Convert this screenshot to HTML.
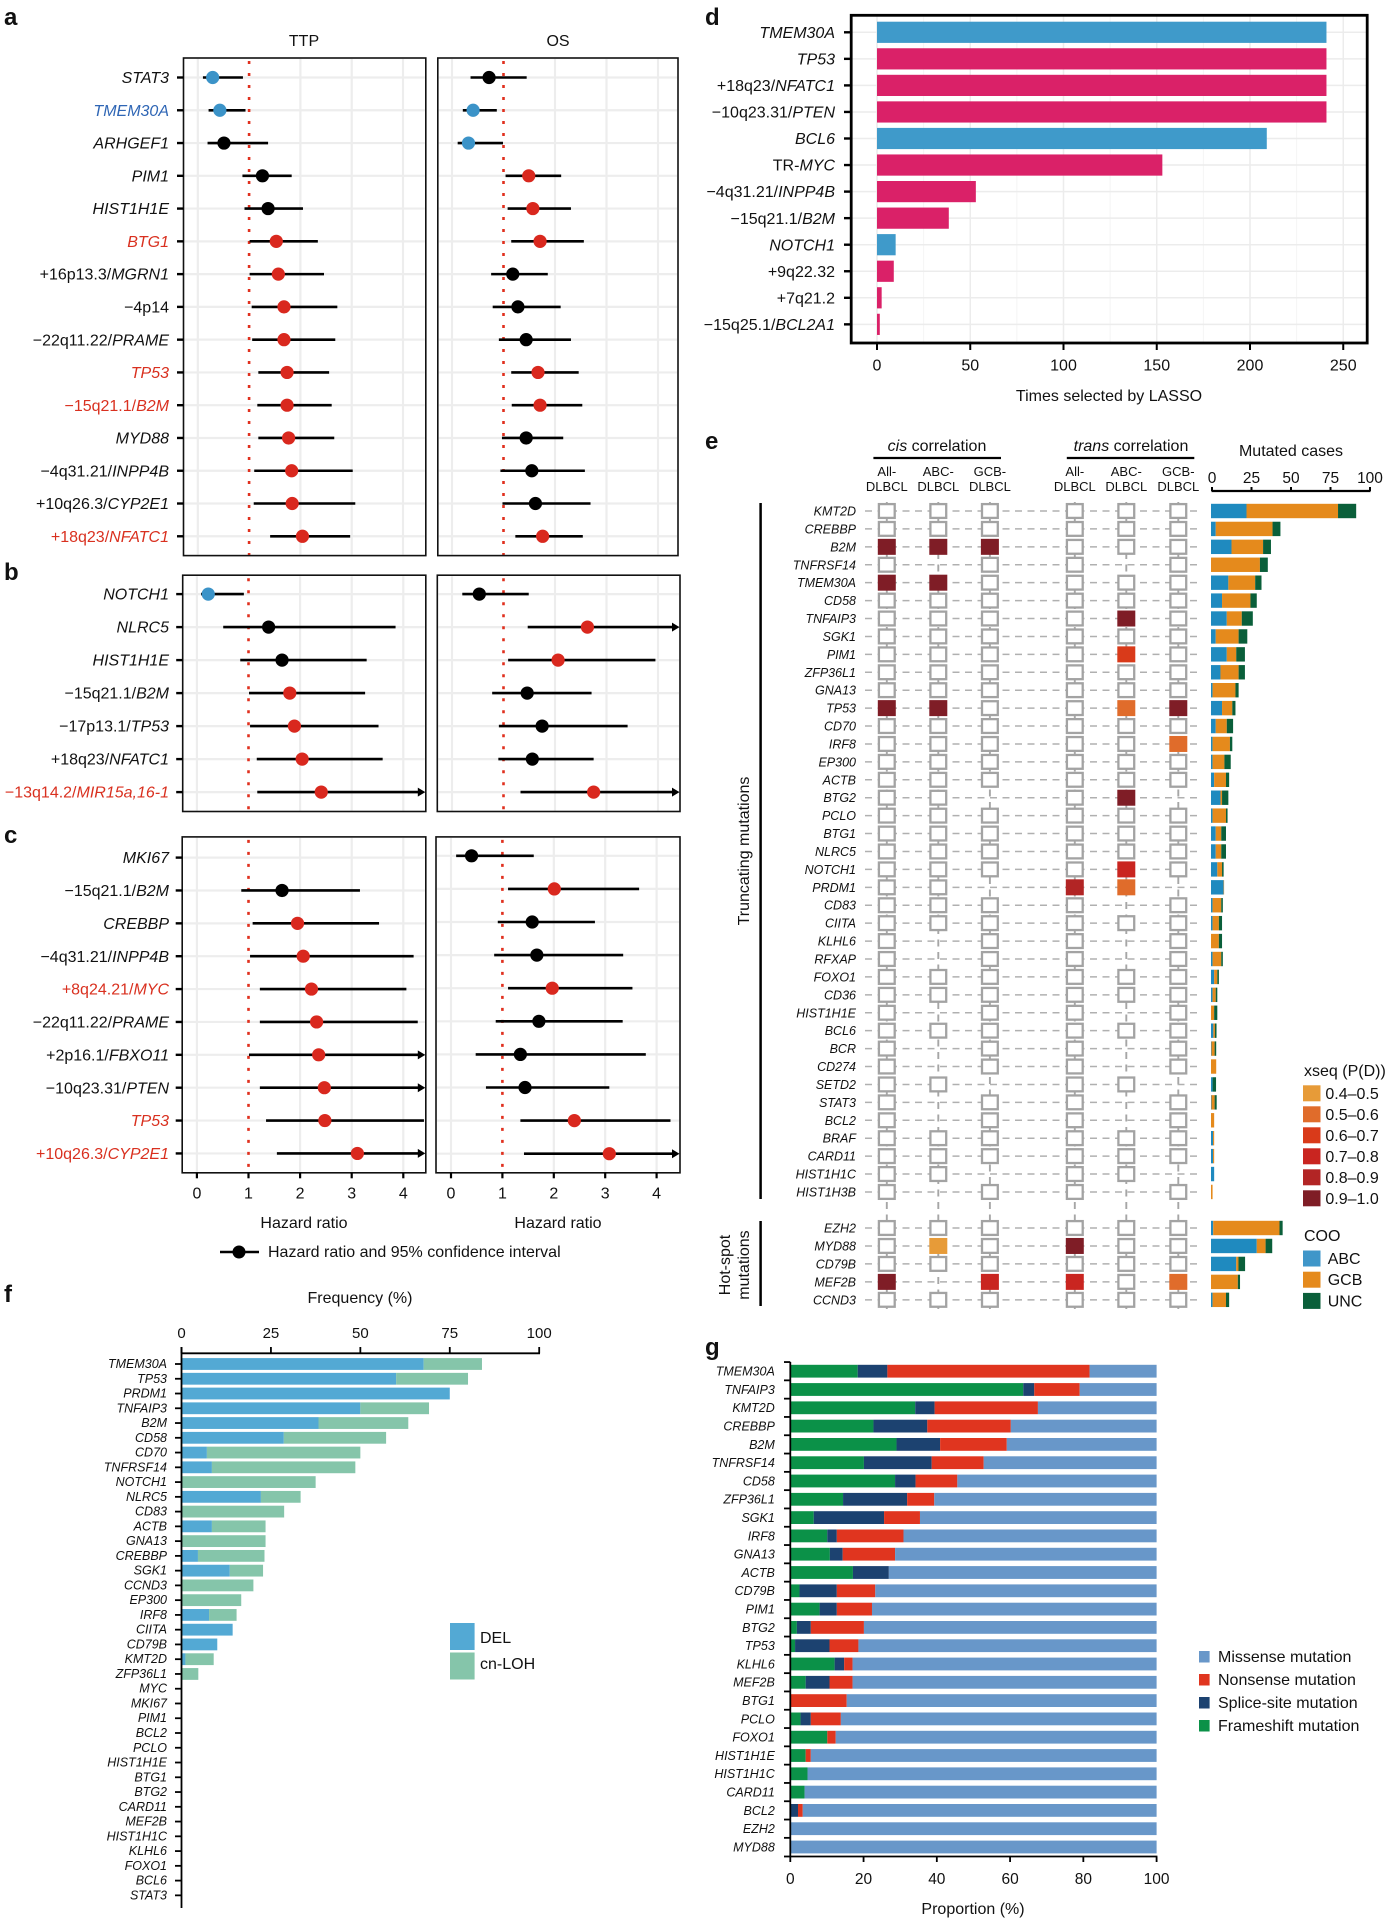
<!DOCTYPE html>
<html lang="en">
<head>
<meta charset="utf-8">
<title>Genomic predictors of outcome in DLBCL</title>
<style>
html,body{margin:0;padding:0;background:#fff;}
#figure{display:block;width:1386px;height:1920px;font-family:"Liberation Sans",sans-serif;}
text{font-family:"Liberation Sans",sans-serif;fill:#111;}
.pl{font-size:24px;font-weight:bold;}
.t16{font-size:16px;}
.t13{font-size:13px;}
</style>
</head>
<body>
<svg id="figure" xmlns="http://www.w3.org/2000/svg" width="1386" height="1920" viewBox="0 0 1386 1920">
  <rect x="0" y="0" width="1386" height="1920" fill="#fff"/>
  <g id="forest"></g>
  <g id="lasso"></g>
  <g id="corr"></g>
  <g id="freq"></g>
  <g id="prop"></g>

  <text class="pl" x="4" y="25">a</text>
  <text class="pl" x="4" y="580">b</text>
  <text class="pl" x="4" y="843">c</text>
  <text class="pl" x="705" y="25">d</text>
  <text class="pl" x="705" y="449">e</text>
  <text class="pl" x="4" y="1302">f</text>
  <text class="pl" x="705" y="1355">g</text>

  <text class="t16" x="304" y="46" text-anchor="middle">TTP</text>
  <text class="t16" x="558" y="46" text-anchor="middle">OS</text>
  <text class="t16" x="304" y="1228" text-anchor="middle">Hazard ratio</text>
  <text class="t16" x="558" y="1228" text-anchor="middle">Hazard ratio</text>
  <line x1="220" x2="259" y1="1252" y2="1252" stroke="#000" stroke-width="2.5"/>
  <circle cx="239" cy="1252" r="6.5" fill="#000"/>
  <text class="t16" x="268" y="1257">Hazard ratio and 95% confidence interval</text>

  <text class="t16" x="1109" y="401" text-anchor="middle">Times selected by LASSO</text>

  <text class="t16" x="937" y="451" text-anchor="middle"><tspan font-style="italic">cis</tspan> correlation</text>
  <line x1="873.4" x2="1001" y1="458" y2="458" stroke="#000" stroke-width="2.2"/>
  <text class="t16" x="1131" y="451" text-anchor="middle"><tspan font-style="italic">trans</tspan> correlation</text>
  <line x1="1066.8" x2="1194.3" y1="458" y2="458" stroke="#000" stroke-width="2.2"/>
  <text class="t16" x="1291" y="456" text-anchor="middle">Mutated cases</text>
  <text class="t16" transform="translate(749,851) rotate(-90)" text-anchor="middle">Truncating mutations</text>
  <text class="t16" transform="translate(730,1265) rotate(-90)" text-anchor="middle">Hot-spot</text>
  <text class="t16" transform="translate(749,1265) rotate(-90)" text-anchor="middle">mutations</text>
  <line x1="760.6" x2="760.6" y1="503" y2="1199" stroke="#000" stroke-width="2.5"/>
  <line x1="760.6" x2="760.6" y1="1221" y2="1306" stroke="#000" stroke-width="2.5"/>

  <text class="t16" x="1304" y="1076">xseq (P(D))</text>
  <text class="t16" x="1304" y="1241">COO</text>

  <text class="t16" x="360" y="1303" text-anchor="middle">Frequency (%)</text>
  <rect x="450" y="1623" width="24.6" height="27" fill="#53a9d4"/>
  <rect x="450" y="1652.5" width="24.6" height="27" fill="#85c5aa"/>
  <text class="t16" x="480" y="1643">DEL</text>
  <text class="t16" x="480" y="1669">cn-LOH</text>

  <text class="t16" x="973" y="1914" text-anchor="middle">Proportion (%)</text>
  <rect x="1199" y="1651" width="10.6" height="11.5" fill="#6897c9"/>
  <rect x="1199" y="1674" width="10.6" height="11.5" fill="#e0351f"/>
  <rect x="1199" y="1697" width="10.6" height="11.5" fill="#1c4270"/>
  <rect x="1199" y="1720" width="10.6" height="11.5" fill="#0b9148"/>
  <text class="t16" x="1218" y="1662">Missense mutation</text>
  <text class="t16" x="1218" y="1685">Nonsense mutation</text>
  <text class="t16" x="1218" y="1708">Splice-site mutation</text>
  <text class="t16" x="1218" y="1731">Frameshift mutation</text>
</svg>
<script>
/* ---------- panel a data ---------- */
const aLabels = ["|STAT3","|TMEM30A","|ARHGEF1","|PIM1","|HIST1H1E","|BTG1","+16p13.3/|MGRN1","−4p14","−22q11.22/|PRAME","|TP53","−15q21.1/|B2M","|MYD88","−4q31.21/|INPP4B","+10q26.3/|CYP2E1","+18q23/|NFATC1"];
const aTtpHr = [.29,.43,.51,1.26,1.37,1.53,1.57,1.68,1.68,1.74,1.74,1.77,1.83,1.84,2.04];
const aTtpLo = [.10,.21,.19,.87,.91,1.01,1.01,1.05,1.06,1.18,1.16,1.18,1.10,1.09,1.41];
const aTtpHi = [.88,.93,1.37,1.83,2.05,2.34,2.46,2.72,2.68,2.56,2.61,2.66,3.02,3.07,2.97];
const aOsHr = [.72,.41,.32,1.49,1.57,1.71,1.18,1.28,1.44,1.67,1.71,1.44,1.55,1.62,1.76];
const aOsLo = [.36,.21,.11,1.04,1.08,1.15,.76,.79,.91,1.15,1.16,.97,.94,.98,1.23];
const aOsHi = [1.45,.87,.99,2.12,2.31,2.56,1.86,2.11,2.31,2.46,2.53,2.16,2.58,2.69,2.54];
/* ---------- panel b data (null upper limit = off-scale arrow) ---------- */
const bLabels = ["|NOTCH1","|NLRC5","|HIST1H1E","−15q21.1/|B2M","−17p13.1/|TP53","+18q23/|NFATC1","−13q14.2/|MIR15a,16-1"];
const bTtpHr = [.22,1.39,1.65,1.80,1.89,2.04,2.41];
const bTtpLo = [.08,.51,.84,1.01,1.03,1.16,1.17];
const bTtpHi = [.91,3.85,3.29,3.26,3.52,3.60,null];
const bOsHr = [.53,2.63,2.06,1.46,1.75,1.56,2.75];
const bOsLo = [.20,1.47,1.09,.78,.91,.90,1.33];
const bOsHi = [1.49,null,3.95,2.71,3.41,2.75,null];
/* ---------- panel c data ---------- */
const cLabels = ["|MKI67","−15q21.1/|B2M","|CREBBP","−4q31.21/|INPP4B","+8q24.21/|MYC","−22q11.22/|PRAME","+2p16.1/|FBXO11","−10q23.31/|PTEN","|TP53","+10q26.3/|CYP2E1"];
const cTtpHr = [null,1.65,1.95,2.06,2.22,2.32,2.36,2.47,2.48,3.11];
const cTtpLo = [null,.86,1.08,1.03,1.22,1.22,1.01,1.22,1.34,1.55];
const cTtpHi = [null,3.16,3.53,4.20,4.06,4.28,null,null,4.40,null];
const cOsHr = [.40,2.01,1.58,1.67,1.97,1.71,1.35,1.44,2.40,3.08];
const cOsLo = [.10,1.11,.91,.84,1.11,.87,.48,.68,1.35,1.42];
const cOsHi = [1.61,3.66,2.80,3.35,3.53,3.34,3.79,3.08,4.27,null];
const hazardTicks = [0,1,2,3,4];
/* ---------- panel d data ---------- */
const dLabels = ["|TMEM30A","|TP53","+18q23/|NFATC1","−10q23.31/|PTEN","|BCL6","TR-|MYC","−4q31.21/|INPP4B","−15q21.1/|B2M","|NOTCH1","+9q22.32","+7q21.2","−15q25.1/|BCL2A1"];
const dValues = [241,241,241,241,209,153,53,38.5,10,9,2.5,1.5];
const dEffect = ["protective","adverse","adverse","adverse","protective","adverse","adverse","adverse","protective","adverse","adverse","adverse"];
const dTicks = [0,50,100,150,200,250];
/* ---------- panel e data ---------- */
const eGenes = ["KMT2D","CREBBP","B2M","TNFRSF14","TMEM30A","CD58","TNFAIP3","SGK1","PIM1","ZFP36L1","GNA13","TP53","CD70","IRF8","EP300","ACTB","BTG2","PCLO","BTG1","NLRC5","NOTCH1","PRDM1","CD83","CIITA","KLHL6","RFXAP","FOXO1","CD36","HIST1H1E","BCL6","BCR","CD274","SETD2","STAT3","BCL2","BRAF","CARD11","HIST1H1C","HIST1H3B","EZH2","MYD88","CD79B","MEF2B","CCND3"];
const eColumns = ["All-","ABC-","GCB-","All-","ABC-","GCB-"];
const n = null;
/* P(D) per gene for cis All/ABC/GCB, trans All/ABC/GCB. 0 = below threshold, null = not tested */
const eCells = [
[0,0,0,0,0,0],[0,0,0,0,0,0],[.95,.95,.95,0,0,0],[0,n,0,0,n,0],[.95,.95,0,0,0,0],[0,0,0,0,0,0],
[0,0,0,0,.95,0],[0,0,0,0,0,0],[0,0,0,0,.65,0],[0,0,0,0,0,0],[0,0,0,0,0,0],[.95,.95,0,0,.55,.95],
[0,0,0,0,0,0],[0,0,0,0,0,.55],[0,0,0,0,0,0],[0,0,0,0,0,0],[0,0,n,0,.95,n],[0,0,0,0,0,0],
[0,0,0,0,0,0],[0,0,0,0,0,0],[0,0,0,0,.75,0],[0,0,n,.85,.55,n],[0,0,0,0,n,0],[0,0,0,0,0,0],
[0,n,0,0,n,0],[0,n,0,0,n,0],[0,0,0,0,0,0],[0,0,0,0,0,0],[0,n,0,0,n,0],[0,0,0,0,0,0],
[0,n,0,0,n,0],[0,n,0,0,n,0],[0,0,n,0,0,n],[0,n,0,0,n,0],[0,n,0,0,n,0],[0,0,0,0,0,0],
[0,0,0,0,0,0],[0,0,n,0,0,n],[0,n,0,0,n,0],
[0,0,0,0,0,0],[0,.45,0,.95,0,0],[0,0,0,0,0,0],[.95,n,.75,.75,0,.55],[0,0,0,0,0,0]];
const eAbc = [22.5,3,13,0,11,7,10,3,10,6,1,7,3,1,1,2,6,1,3,3,4,8,1,1,0,1,2,1,0,1.5,.3,0,1,.3,0,1.3,1.3,2,0,1.4,29,16,0,1];
const eGcb = [58,36,20,31,17,18,9.5,14.5,6,11.5,14.5,6.5,7,11,7.5,7.5,1,8.5,3.5,3.5,3,.3,5.5,4,5,5.5,2,2,2,1,2,3.3,0,2,2,.7,.7,0,1,42,5.6,1.4,17,8.5];
const eUnc = [11.5,5,5,5,4,4,7,5.5,5.5,4,2,2,4,1.5,4,2,4,1,3,3,1,0,1,2,2,1,1,1,2,1,1,0,2.2,1.3,0,0,0,0,0,2,4.2,4.2,1.4,2];
const eCaseTicks = [0,25,50,75,100];
const xseqBins = ["0.4–0.5","0.5–0.6","0.6–0.7","0.7–0.8","0.8–0.9","0.9–1.0"];
const cooGroups = ["ABC","GCB","UNC"];
/* ---------- panel f data ---------- */
const fGenes = ["TMEM30A","TP53","PRDM1","TNFAIP3","B2M","CD58","CD70","TNFRSF14","NOTCH1","NLRC5","CD83","ACTB","GNA13","CREBBP","SGK1","CCND3","EP300","IRF8","CIITA","CD79B","KMT2D","ZFP36L1","MYC","MKI67","PIM1","BCL2","PCLO","HIST1H1E","BTG1","BTG2","CARD11","MEF2B","HIST1H1C","KLHL6","FOXO1","BCL6","STAT3"];
const fDel = [67.7,60,75,50,38.3,28.6,7.1,8.5,0,22.2,0,8.5,0,4.6,13.5,0,0,7.7,14.3,10,1.1,0,0,0,0,0,0,0,0,0,0,0,0,0,0,0,0];
const fLoh = [16.3,20.1,0,19.2,25.1,28.6,42.9,40.1,37.5,11.1,28.7,15,23.5,18.6,9.3,20.1,16.7,7.7,0,0,7.9,4.7,0,0,0,0,0,0,0,0,0,0,0,0,0,0,0];
const fTicks = [0,25,50,75,100];
/* ---------- panel g data ---------- */
const gGenes = ["TMEM30A","TNFAIP3","KMT2D","CREBBP","B2M","TNFRSF14","CD58","ZFP36L1","SGK1","IRF8","GNA13","ACTB","CD79B","PIM1","BTG2","TP53","KLHL6","MEF2B","BTG1","PCLO","FOXO1","HIST1H1E","HIST1H1C","CARD11","BCL2","EZH2","MYD88"];
const gFrameshift = [18.4,63.6,34.1,22.7,29,20.1,28.6,14.4,6.4,10.1,10.8,17.1,2.5,8,1.8,1.3,12.1,4.2,0,2.8,10.1,4.2,4.7,3.9,0,0,0];
const gSplice = [8.1,3,5.3,14.7,11.9,18.5,5.6,17.5,19.2,2.6,3.5,9.8,10.2,4.7,3.8,9.4,2.6,6.5,0,2.8,0,0,0,0,2.1,0,0];
const gNonsense = [55.2,12.4,28.2,22.8,18.2,14.2,11.4,7.4,9.8,18.2,14.3,0,10.5,9.6,14.5,7.9,2.3,6.3,15.4,8.2,2.3,1.4,0,0,1.3,0,0];
const gMissense = [18.3,21,32.4,39.8,40.9,47.2,54.4,60.7,64.6,69.1,71.4,73.1,76.8,77.7,79.9,81.4,83,83,84.6,86.2,87.6,94.4,95.3,96.1,96.6,100,100];
const gTicks = [0,20,40,60,80,100];

/* ---------- helpers ---------- */
const NS = "http://www.w3.org/2000/svg";
function mk(tag, attrs, parent) {
  const e = document.createElementNS(NS, tag);
  for (const k in attrs) e.setAttribute(k, attrs[k]);
  parent.appendChild(e);
  return e;
}
function fillLabel(t, spec) {
  const parts = spec.split("|");
  if (parts.length === 1) { t.textContent = spec; return; }
  if (parts[0]) { const a = mk("tspan", {}, t); a.textContent = parts[0]; }
  const b = mk("tspan", {"font-style": "italic"}, t);
  b.textContent = parts[1];
}
const BLUE = "#3b93c8", RED = "#d9281e", GRID = "#ededed";

/* ---------- forest panels a, b, c ---------- */
const forest = document.getElementById("forest");
function effectClass(lo, hi) {
  if (lo === null) return "none";
  if (lo > 1) return "adverse";
  if (hi !== null && hi < 1) return "protective";
  return "neutral";
}
function drawColumn(grp, col, nm, labels, hr, lo, hi, top, bottom, rowY) {
  const xS = v => col.x0 + v * col.unit;
  const fr = col.right;
  hazardTicks.forEach(t => {
    if (t === 1) return;
    const g = mk("line", {x1: xS(t), x2: xS(t), y1: top + 1, y2: bottom - 1, stroke: GRID, "stroke-width": 2.2}, grp);
    
    
  });
  labels.forEach((_, i) => {
    const g = mk("line", {x1: col.left + 1, x2: fr - 1, y1: rowY(i), y2: rowY(i), stroke: GRID, "stroke-width": 2.2}, grp);
    
    
  });
  const ref = mk("line", {x1: xS(1), x2: xS(1), y1: top + 3, y2: bottom, stroke: "#e0301e", "stroke-width": 2.6, "stroke-dasharray": "3 9"}, grp);
  
  
  labels.forEach((lab, i) => {
    if (hr[i] === null) return;
    const y = rowY(i);
    const x2 = hi[i] === null ? fr - 4 : Math.min(xS(hi[i]), fr - 1);
    const l = mk("line", {x1: xS(lo[i]), x2: x2, y1: y, y2: y, stroke: "#000", "stroke-width": 2.6}, grp);
    
    
    if (hi[i] === null) {
      const a = mk("polygon", {points: (fr - 8) + "," + (y - 4.5) + " " + (fr - 0.5) + "," + y + " " + (fr - 8) + "," + (y + 4.5), fill: "#000"}, grp);
      
      
    }
    const cls = effectClass(lo[i], hi[i]);
    const p = mk("circle", {cx: xS(hr[i]), cy: y, r: 6.6, fill: cls === "adverse" ? RED : cls === "protective" ? BLUE : "#000"}, grp);
    
    
  });
  const f = mk("rect", {x: col.left, y: top, width: fr - col.left, height: bottom - top, fill: "none", stroke: "#111", "stroke-width": 1.6}, grp);
  
  
}
function drawForest(nm, layout, labels, tH, tL, tU, oH, oL, oU) {
  const grp = mk("g", {}, forest);
  
  
  const rowL = i => layout.rowL + i * layout.stepL;
  const rowR = i => layout.rowR + i * layout.stepR;
  drawColumn(grp, layout.ttp, nm + "-ttp", labels, tH, tL, tU, layout.top, layout.bottom, rowL);
  drawColumn(grp, layout.os, nm + "-os", labels, oH, oL, oU, layout.top, layout.bottom, rowR);
  labels.forEach((lab, i) => {
    const y = rowL(i);
    const tk = mk("line", {x1: layout.ttp.left - 6.5, x2: layout.ttp.left, y1: y, y2: y, stroke: "#000", "stroke-width": 2.4}, grp);
    
    
    const cT = effectClass(tL[i], tU[i]), cO = effectClass(oL[i], oU[i]);
    const color = cT === "adverse" && cO === "adverse" ? "#d9301f" : cT === "protective" && cO === "protective" ? "#2f66b5" : "#111";
    const t = mk("text", {x: 169, y: y + 5.6, "text-anchor": "end", "font-size": 16}, grp);
    t.style.fill = color;
    fillLabel(t, lab);
    
    
  });
  return grp;
}
drawForest("a", {top: 58, bottom: 555.6, rowL: 77.5, stepL: 32.77, rowR: 77.5, stepR: 32.77,
  ttp: {left: 183.5, right: 425.8, x0: 197.8, unit: 51.3}, os: {left: 437.8, right: 678, x0: 452, unit: 51.5}},
  aLabels, aTtpHr, aTtpLo, aTtpHi, aOsHr, aOsLo, aOsHi);
drawForest("b", {top: 575.2, bottom: 811.5, rowL: 594.1, stepL: 33, rowR: 594.1, stepR: 33,
  ttp: {left: 182.7, right: 425.8, x0: 196.9, unit: 51.6}, os: {left: 437.3, right: 680, x0: 452, unit: 51.5}},
  bLabels, bTtpHr, bTtpLo, bTtpHi, bOsHr, bOsLo, bOsHi);
const cLayout = {top: 836.9, bottom: 1172.8, rowL: 857.6, stepL: 32.87, rowR: 855.8, stepR: 33.1,
  ttp: {left: 182.2, right: 425.8, x0: 196.9, unit: 51.6}, os: {left: 436, right: 680, x0: 451, unit: 51.4}};
const cGroup = drawForest("c", cLayout, cLabels, cTtpHr, cTtpLo, cTtpHi, cOsHr, cOsLo, cOsHi);
[cLayout.ttp, cLayout.os].forEach(col => {
  hazardTicks.forEach(t => {
    const x = col.x0 + t * col.unit;
    const tk = mk("line", {x1: x, x2: x, y1: cLayout.bottom, y2: cLayout.bottom + 5.5, stroke: "#000", "stroke-width": 2.2}, cGroup);
    
    
    const lb = mk("text", {x: x, y: 1198.5, "text-anchor": "middle", "font-size": 16}, cGroup);
    lb.textContent = t;
    
    
  });
});

/* ---------- panel d ---------- */
const lasso = document.getElementById("lasso");
const dX = v => 877 + v * 1.865;
const dY = i => 32.3 + i * 26.55;
const dFrame = {x1: 851.2, x2: 1367.2, y1: 15.3, y2: 343};
[25,75,125,175,225].forEach(v => {
  const g = mk("line", {x1: dX(v), x2: dX(v), y1: dFrame.y1, y2: dFrame.y2, stroke: "#f4f4f4", "stroke-width": 1}, lasso);
  
  
});
dTicks.forEach(v => {
  const g = mk("line", {x1: dX(v), x2: dX(v), y1: dFrame.y1, y2: dFrame.y2, stroke: "#ececec", "stroke-width": 1.5}, lasso);
  
  
  const tk = mk("line", {x1: dX(v), x2: dX(v), y1: dFrame.y2, y2: dFrame.y2 + 7, stroke: "#000", "stroke-width": 2}, lasso);
  
  
  const t = mk("text", {x: dX(v), y: 370.5, "text-anchor": "middle", "font-size": 16}, lasso);
  t.textContent = v;
  
  
});
dValues.forEach((v, i) => {
  const y = dY(i);
  const g = mk("line", {x1: dFrame.x1, x2: dFrame.x2, y1: y, y2: y, stroke: "#ececec", "stroke-width": 1.5}, lasso);
  
  
  const b = mk("rect", {x: dX(0), y: y - 10.6, width: dX(v) - dX(0), height: 21.2, fill: dEffect[i] === "protective" ? "#3f9aca" : "#da2168"}, lasso);
  
  
  const tk = mk("line", {x1: 844, x2: dFrame.x1, y1: y, y2: y, stroke: "#000", "stroke-width": 2.4}, lasso);
  
  
  const t = mk("text", {x: 835, y: y + 5.6, "text-anchor": "end", "font-size": 16}, lasso);
  fillLabel(t, dLabels[i]);
  
  
});
const dBox = mk("rect", {x: dFrame.x1, y: dFrame.y1, width: dFrame.x2 - dFrame.x1, height: dFrame.y2 - dFrame.y1, fill: "none", stroke: "#000", "stroke-width": 2.8}, lasso);



/* ---------- panel e ---------- */
const corr = document.getElementById("corr");
const eColX = [886.8, 938.3, 989.9, 1074.8, 1126.3, 1178.3];
const eY = i => i < 39 ? 511 + i * 17.92 : 1228 + (i - 39) * 17.96;
const eXs = v => 1211 + v * 1.578;
function xseqColor(p) {
  const palette = ["#e79b38", "#e06c2b", "#d93a1a", "#c92520", "#b22525", "#7f1d26"];
  return palette[Math.min(5, Math.max(0, Math.floor((p - 0.4) * 10)))];
}
eColumns.forEach((c, j) => {
  const v = mk("line", {x1: eColX[j], x2: eColX[j], y1: 502, y2: 1311, stroke: "#a6a6a6", "stroke-width": 1.9, "stroke-dasharray": "7 5.5"}, corr);
  
  
  const a = mk("text", {x: eColX[j], y: 476, "text-anchor": "middle", "font-size": 13}, corr);
  a.textContent = c;
  
  
  const b = mk("text", {x: eColX[j], y: 491, "text-anchor": "middle", "font-size": 13}, corr);
  b.textContent = "DLBCL";
  
  
});
eGenes.forEach((g, i) => {
  const y = eY(i);
  const h = mk("line", {x1: 865, x2: 1197, y1: y, y2: y, stroke: "#b0b0b0", "stroke-width": 1.5, "stroke-dasharray": "7 5.5"}, corr);
  
  
  const t = mk("text", {x: 856, y: y + 4.5, "text-anchor": "end", "font-size": 12.5, "font-style": "italic"}, corr);
  t.textContent = g;
  
  
});
eCells.forEach((row, i) => {
  const y = eY(i);
  row.forEach((val, j) => {
    if (val === null) return;
    if (val > 0) {
      const r = mk("rect", {x: eColX[j] - 9, y: y - 8, width: 18, height: 16, fill: xseqColor(val)}, corr);
      
      
    } else {
      const r = mk("rect", {x: eColX[j] - 7.9, y: y - 6.9, width: 15.8, height: 13.8, fill: "#fff", stroke: "#a3a3a3", "stroke-width": 2.3}, corr);
      
      
    }
  });
  const stack = [[eAbc[i], "#1f8abf"], [eGcb[i], "#e58a1c"], [eUnc[i], "#0a5f3a"]];
  let acc = 0;
  stack.forEach(s => {
    if (s[0] <= 0) return;
    const b = mk("rect", {x: eXs(acc), y: y - 7.2, width: eXs(acc + s[0]) - eXs(acc), height: 14.4, fill: s[1]}, corr);
    
    
    acc += s[0];
  });
});
const caseAxis = mk("line", {x1: eXs(0) + 0.5, x2: 1370.5, y1: 491, y2: 491, stroke: "#000", "stroke-width": 2.2}, corr);


eCaseTicks.forEach(v => {
  const x = 1212 + v * 1.58;
  const tk = mk("line", {x1: x, x2: x, y1: 487, y2: 491, stroke: "#000", "stroke-width": 2}, corr);
  
  
  const t = mk("text", {x: x, y: 483, "text-anchor": "middle", "font-size": 15.5}, corr);
  t.textContent = v;
  
  
});
xseqBins.forEach((b, i) => {
  const y = 1093.3 + i * 21;
  const s = mk("rect", {x: 1303, y: y - 8, width: 17.5, height: 16, fill: xseqColor(0.45 + i * 0.1)}, corr);
  
  
  const t = mk("text", {x: 1325.4, y: y + 5.5, "font-size": 16}, corr);
  t.textContent = b;
  
  
});
cooGroups.forEach((c, i) => {
  const y = 1258.5 + i * 21.2;
  const s = mk("rect", {x: 1303, y: y - 8, width: 17.5, height: 16, fill: ["#3f96c9", "#e58a1c", "#0a5f3a"][i]}, corr);
  
  
  const t = mk("text", {x: 1327.7, y: y + 5.5, "font-size": 16}, corr);
  t.textContent = c;
  
  
});

/* ---------- panel f ---------- */
const freq = document.getElementById("freq");
const fX = v => 181.5 + v * 3.577;
const fY = i => 1364 + i * 14.76;
fGenes.forEach((g, i) => {
  const y = fY(i);
  if (fDel[i] > 0) {
    const b = mk("rect", {x: fX(0), y: y - 5.9, width: fX(fDel[i]) - fX(0), height: 11.8, fill: "#53a9d4"}, freq);
    
    
  }
  if (fLoh[i] > 0) {
    const b = mk("rect", {x: fX(fDel[i]), y: y - 5.9, width: fX(fDel[i] + fLoh[i]) - fX(fDel[i]), height: 11.8, fill: "#85c5aa"}, freq);
    
    
  }
  const tk = mk("line", {x1: 175, x2: fX(0), y1: y, y2: y, stroke: "#000", "stroke-width": 1.8}, freq);
  
  
  const t = mk("text", {x: 167, y: y + 4, "text-anchor": "end", "font-size": 12.5, "font-style": "italic"}, freq);
  t.textContent = g;
  
  
});
const fVert = mk("line", {x1: fX(0), x2: fX(0), y1: 1347, y2: 1908, stroke: "#000", "stroke-width": 1.8}, freq);


const fHor = mk("line", {x1: fX(0), x2: fX(100) + 0.8, y1: 1353.3, y2: 1353.3, stroke: "#000", "stroke-width": 1.8}, freq);


fTicks.forEach(v => {
  const tk = mk("line", {x1: fX(v), x2: fX(v), y1: 1347, y2: 1353.3, stroke: "#000", "stroke-width": 1.8}, freq);
  
  
  const t = mk("text", {x: fX(v), y: 1338, "text-anchor": "middle", "font-size": 15}, freq);
  t.textContent = v;
  
  
});

/* ---------- panel g ---------- */
const prop = document.getElementById("prop");
const gX = v => 790.3 + v * 3.663;
const gY = i => 1371.2 + i * 18.3;
gGenes.forEach((g, i) => {
  const y = gY(i);
  let acc = 0;
  [[gFrameshift[i], "#0b9148", "frameshift"], [gSplice[i], "#1c4270", "splice-site"], [gNonsense[i], "#e0351f", "nonsense"], [gMissense[i], "#6897c9", "missense"]].forEach(s => {
    if (s[0] <= 0) return;
    const b = mk("rect", {x: gX(acc), y: y - 6.4, width: gX(acc + s[0]) - gX(acc), height: 12.8, fill: s[1]}, prop);
    
    
    acc += s[0];
  });
  const tk = mk("line", {x1: 784, x2: gX(0), y1: y - 9.15, y2: y - 9.15, stroke: "#000", "stroke-width": 1.8}, prop);
  
  
  const t = mk("text", {x: 774.8, y: y + 4.4, "text-anchor": "end", "font-size": 12.5, "font-style": "italic"}, prop);
  t.textContent = g;
  
  
});
const gVert = mk("line", {x1: gX(0), x2: gX(0), y1: 1362, y2: 1857, stroke: "#000", "stroke-width": 1.8}, prop);


const gEnd = mk("line", {x1: 784, x2: gX(0), y1: 1856.5, y2: 1856.5, stroke: "#000", "stroke-width": 1.8}, prop);


const gHor = mk("line", {x1: gX(0), x2: gX(100) + 0.8, y1: 1856.5, y2: 1856.5, stroke: "#000", "stroke-width": 1.8}, prop);


gTicks.forEach(v => {
  const tk = mk("line", {x1: gX(v), x2: gX(v), y1: 1856.5, y2: 1862, stroke: "#000", "stroke-width": 1.8}, prop);
  
  
  const t = mk("text", {x: gX(v), y: 1884, "text-anchor": "middle", "font-size": 15.5}, prop);
  t.textContent = v;
  
  
});
</script>
</body>
</html>
